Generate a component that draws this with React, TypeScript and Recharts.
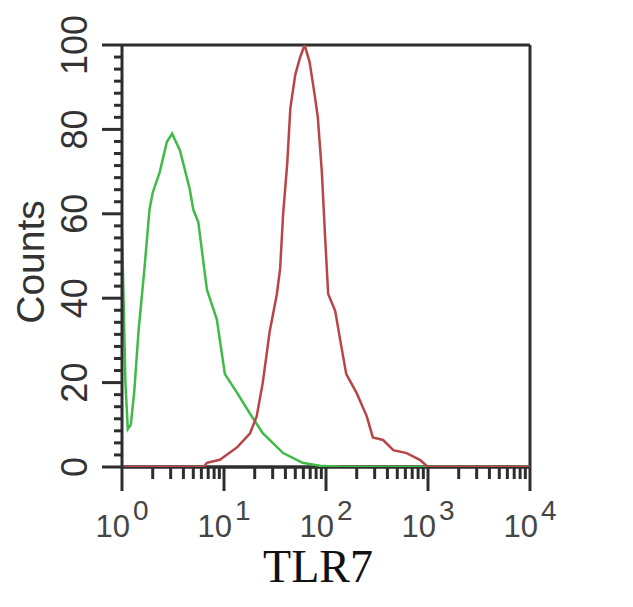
import React from 'react';
import { LineChart, Line, XAxis, YAxis, ReferenceLine } from 'recharts';

// isotype control (green) – fluorescence intensity vs counts
const controlIntensity = [1, 1.04, 1.08, 1.14, 1.22, 1.32, 1.45, 1.66, 1.86, 2.0, 2.35, 2.75, 3.1, 3.7, 4.6, 5.0, 5.6, 6.8, 8.5, 10.2, 13.5, 17.8, 24, 38, 59, 87, 150, 1000, 10000];
const controlCounts = [56, 38, 20, 9, 10, 18, 32, 47, 61, 65, 70, 77, 79, 75, 66, 61, 58, 42, 35, 22, 17.5, 12.8, 8, 3.3, 1, 0.3, 0, 0, 0];

// TLR7 stained (red)
const tlr7Intensity = [1, 6.3, 6.8, 9.1, 13.5, 18, 20.9, 24, 28, 33, 35.5, 38, 41.7, 44.7, 50, 55.6, 61.7, 69, 77.6, 83, 91, 98, 105, 123, 138, 158, 200, 251, 288, 363, 457, 617, 832, 1000, 10000];
const tlr7Counts = [0, 0, 1, 1.7, 4.7, 8, 12, 20, 32, 41, 47, 60, 72, 85, 93, 97, 100, 96, 88, 83, 70, 54.5, 41, 37, 30, 22, 17.5, 12, 7, 6.4, 4, 3.3, 1.7, 0, 0];

const decadeTicks = [1, 10, 100, 1000, 10000];
const countTicks = [0, 20, 40, 60, 80, 100];

const controlData = controlIntensity.map((x, i) => ({ x, count: controlCounts[i] }));
const tlr7Data = tlr7Intensity.map((x, i) => ({ x, count: tlr7Counts[i] }));

// minor ticks: 2..9 within each decade, 35 steps on the count axis
const xTicks = decadeTicks.flatMap((d, i) =>
  i < decadeTicks.length - 1 ? [1, 2, 3, 4, 5, 6, 7, 8, 9].map((m) => m * d) : [d]
);
const yTicks = Array.from({ length: 36 }, (_, i) => (i * 100) / 35);

const SANS = '"Liberation Sans", Arial, sans-serif';
const FRAME = '#2e2e2e';

const XTick = (props: any) => {
  const { x, y, payload } = props;
  const exp = Math.round(Math.log10(payload.value));
  const major = decadeTicks.includes(payload.value);
  return (
    <g>
      <line x1={x} x2={x} y1={y} y2={y + (major ? 24 : 12)} stroke={FRAME} strokeWidth={3} />
      {major && (
        <text x={x} y={y + 70} textAnchor="middle" fill="#454545" fontFamily={SANS} fontSize={31}>
          10
          <tspan dx={3} dy={-17} fontSize={28}>
            {exp}
          </tspan>
        </text>
      )}
    </g>
  );
};

const YTick = (props: any) => {
  const { x, y, payload } = props;
  const major = countTicks.includes(payload.value);
  return (
    <g>
      <line x1={x} x2={x - (major ? 20 : 8)} y1={y} y2={y} stroke={FRAME} strokeWidth={3} />
      {major && (
        <text
          x={x - 35}
          y={y}
          textAnchor="middle"
          fill="#333"
          fontFamily={SANS}
          fontSize={36}
          transform={`rotate(-90, ${x - 35}, ${y})`}
        >
          {payload.value}
        </text>
      )}
    </g>
  );
};

const XTitle = (props: any) => {
  const { x, y, width } = props.viewBox;
  return (
    <text x={x + width / 2 - 8} y={y + 115} textAnchor="middle" fill="#111" fontFamily='"Liberation Serif", "Times New Roman", serif' fontSize={46}>
      TLR7
    </text>
  );
};

const YTitle = (props: any) => {
  const { x, y, height } = props.viewBox;
  const cx = x + 36;
  const cy = y + height / 2 + 6;
  return (
    <text x={cx} y={cy} textAnchor="middle" fill="#333" fontFamily={SANS} fontSize={39} transform={`rotate(-90, ${cx}, ${cy})`}>
      Counts
    </text>
  );
};

const App: React.FC = () => {
  return (
    <div style={{ width: 625, height: 599, background: '#fff' }}>
      <LineChart width={625} height={599} margin={{ top: 37, right: 103, left: 0, bottom: 0 }}>
        <XAxis
          dataKey="x"
          type="number"
          scale="log"
          domain={[1, 10000]}
          ticks={xTicks}
          interval={0}
          tick={<XTick />}
          tickLine={false}
          tickSize={0}
          tickMargin={0}
          axisLine={false}
          height={140}
          allowDataOverflow
          label={XTitle}
        />
        <YAxis
          type="number"
          domain={[0, 100]}
          ticks={yTicks}
          interval={0}
          tick={<YTick />}
          tickLine={false}
          tickSize={0}
          tickMargin={0}
          axisLine={{ stroke: FRAME, strokeWidth: 3 }}
          width={114}
          allowDataOverflow
          label={YTitle}
        />
        <ReferenceLine y={0} stroke={FRAME} strokeWidth={3.5} />
        <ReferenceLine y={100} stroke={FRAME} strokeWidth={3} />
        <ReferenceLine x={10000} stroke={FRAME} strokeWidth={3} />
        <Line
          data={controlData}
          dataKey="count"
          type="linear"
          stroke="#3fbb48"
          strokeWidth={2.5}
          dot={false}
          isAnimationActive={false}
        />
        <Line
          data={tlr7Data}
          dataKey="count"
          type="linear"
          stroke="#b94546"
          strokeWidth={2.5}
          dot={false}
          isAnimationActive={false}
        />
      </LineChart>
    </div>
  );
};

export default App;
